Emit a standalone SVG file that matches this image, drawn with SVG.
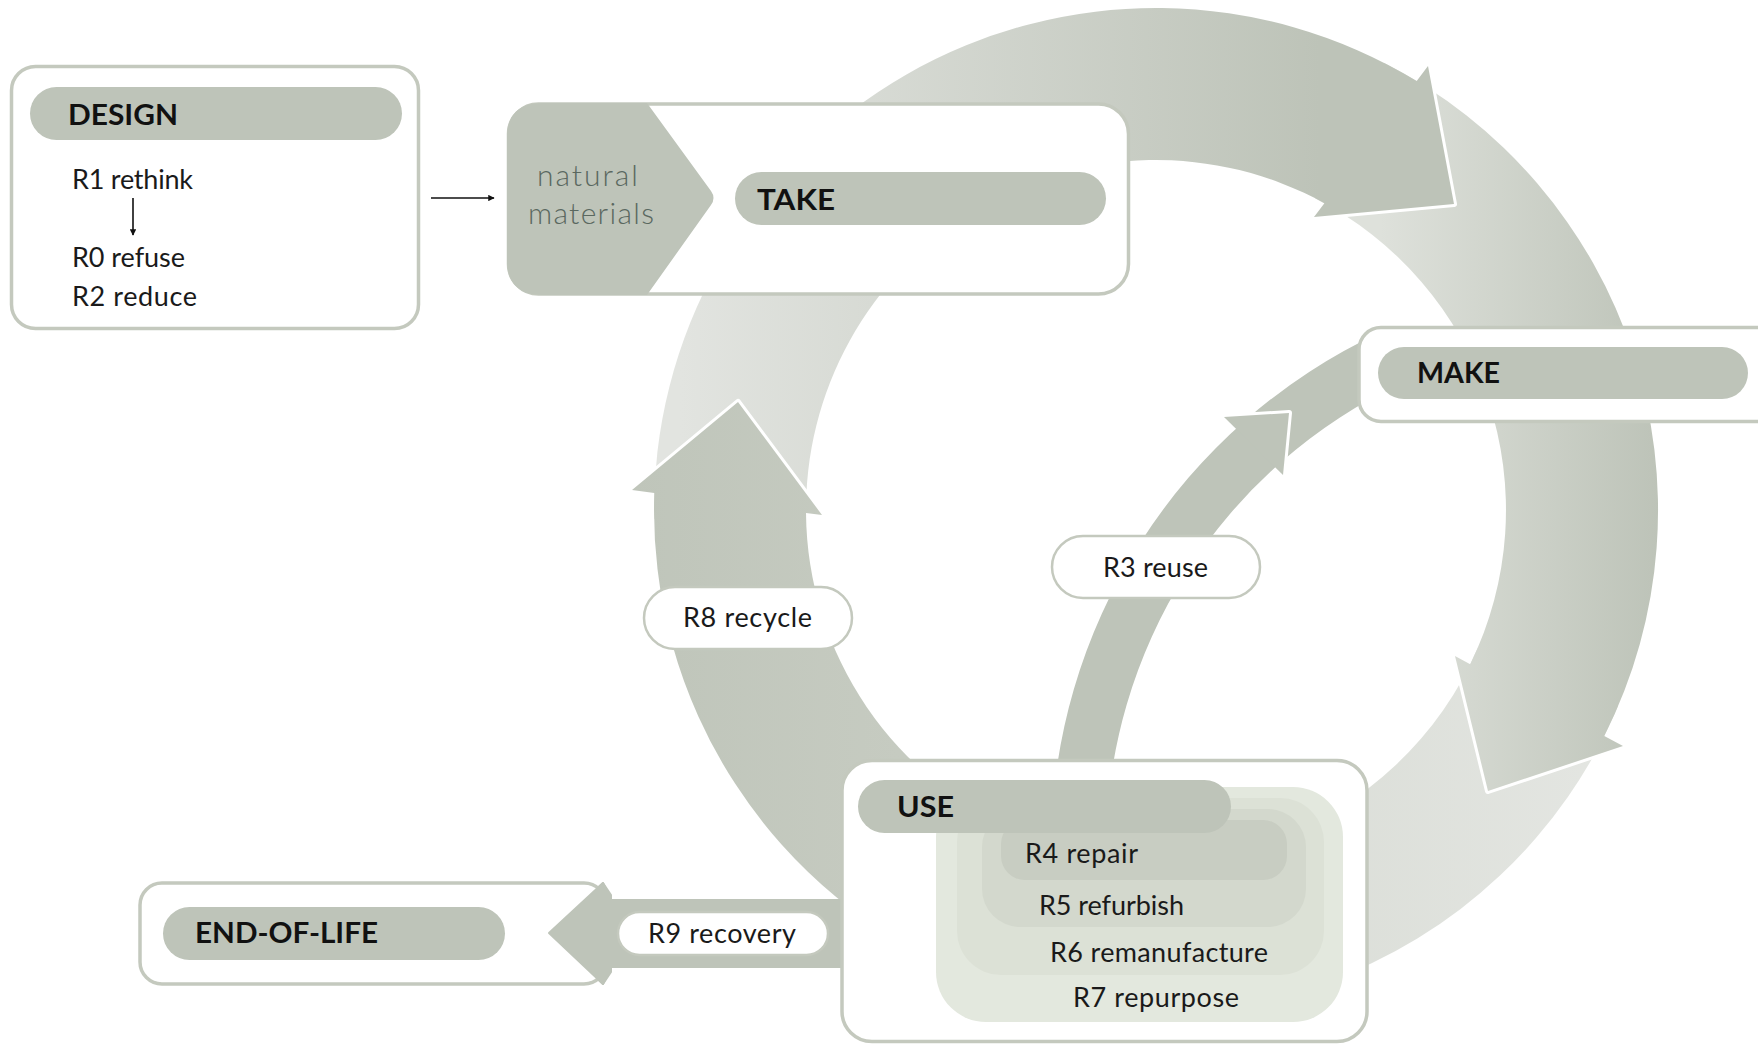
<svg xmlns="http://www.w3.org/2000/svg" width="1758" height="1044" viewBox="0 0 1758 1044">
<defs>
  <linearGradient id="gTop" gradientUnits="userSpaceOnUse" x1="680" y1="0" x2="1320" y2="0">
    <stop offset="0" stop-color="#e2e4e0"/><stop offset="1" stop-color="#bdc3b8"/>
  </linearGradient>
  <linearGradient id="gRight" gradientUnits="userSpaceOnUse" x1="1380" y1="0" x2="1660" y2="0">
    <stop offset="0" stop-color="#dee1db"/><stop offset="1" stop-color="#bdc3b8"/>
  </linearGradient>
  <linearGradient id="gBottom" gradientUnits="userSpaceOnUse" x1="1300" y1="0" x2="1620" y2="0">
    <stop offset="0" stop-color="#dbded8"/><stop offset="1" stop-color="#e4e6e2"/>
  </linearGradient>
  <linearGradient id="gLeft" gradientUnits="userSpaceOnUse" x1="630" y1="0" x2="900" y2="0">
    <stop offset="0" stop-color="#bfc5ba"/><stop offset="1" stop-color="#c6cbc1"/>
  </linearGradient>
  <marker id="ah" viewBox="0 0 10 10" refX="9" refY="5" markerWidth="5" markerHeight="4" orient="auto" markerUnits="strokeWidth">
    <path d="M0,0 L10,5 L0,10 z" fill="#111"/>
  </marker>
</defs>
<style>
  .box{fill:#fff;stroke:#c4c9be;stroke-width:3.5}
  .pill{fill:#bec4b9}
  .lbl{fill:#fff;stroke:#c4c9be;stroke-width:2.5}
  .flow{fill:#bec4b9}
  .edge{fill:none;stroke:#fff;stroke-width:6;stroke-linejoin:round}
  .h{font-family:Lato,"Liberation Sans",sans-serif;font-weight:700;font-size:28px;fill:#111}
  .t{font-family:Lato,"Liberation Sans",sans-serif;font-size:27px;fill:#1a1a1a}
  .nat{font-family:Lato,"Liberation Sans",sans-serif;font-weight:300;font-size:30px;fill:#5a6860}
  .thin{stroke:#111;stroke-width:1.6;fill:none}
</style>

<g id="connectors">
  <!-- bottom segment of main cycle -->
  <path d="M1618.1,706.1 A502,502 0 0 1 920.3,953.2 L991.7,819 A350,350 0 0 0 1478.2,646.8 Z" fill="url(#gBottom)"/>
  <!-- right segment MAKE -> USE -->
  <polyline class="edge" points="1455,656 1488,791 1623,746"/>
  <path d="M1383.9,62.7 A502,502 0 0 1 1604.3,736 L1623,746 L1488,791 L1455,656 L1470.2,664.2 A350,350 0 0 0 1314.9,198.2 Z" fill="url(#gRight)"/>
  <!-- top segment TAKE -> MAKE -->
  <polyline class="edge" points="1428,66 1454,204 1314,217"/>
  <path d="M654.1,518.8 A502,502 0 0 1 1416.7,81 L1428,66 L1454,204 L1314,217 L1324.4,203.2 A350,350 0 0 0 806.05,516.1 Z" fill="url(#gTop)"/>
  <!-- left segment USE -> TAKE (recycle) -->
  <polyline class="edge" points="632,490 738,402 822,515"/>
  <path d="M967.9,975.5 A502,502 0 0 1 654.3,492.9 L632,490 L738,402 L822,515 L806,512.9 A350,350 0 0 0 1024.9,834.5 Z" fill="url(#gLeft)"/>
  <!-- reuse arc USE -> MAKE -->
  <path class="flow" d="M1051,849 A570,570 0 0 1 1380.1,332.4 L1403.4,382.3 A515,515 0 0 0 1106,849 Z"/>
  <polyline class="edge" points="1224,417 1289,413 1283,475"/>
  <polygon class="flow" points="1224,417 1289,413 1283,475"/>
  <!-- recovery arrow USE -> END-OF-LIFE -->
  <polygon class="flow" points="845,900 611,900 603,883 549,933 603,984 611,967 845,967" stroke="#bec4b9" stroke-width="2" stroke-linejoin="round"/>
  <!-- DESIGN -> TAKE -->
  <line class="thin" x1="431" y1="198" x2="494" y2="198" marker-end="url(#ah)"/>
</g>

<g id="node-design">
  <rect class="box" x="11.5" y="66.5" width="407" height="262" rx="24"/>
  <rect class="pill" x="30" y="87" width="372" height="53" rx="26.5"/>
  <text class="h" x="68" y="125" textLength="110" lengthAdjust="spacingAndGlyphs">DESIGN</text>
  <text class="t" x="72" y="189" textLength="121" lengthAdjust="spacing">R1 rethink</text>
  <line class="thin" x1="133" y1="198" x2="133" y2="235" marker-end="url(#ah)"/>
  <text class="t" x="72" y="267" textLength="113" lengthAdjust="spacing">R0 refuse</text>
  <text class="t" x="72" y="306" textLength="125" lengthAdjust="spacing">R2 reduce</text>
</g>

<g id="node-take">
  <rect class="box" x="508.5" y="104" width="620" height="190" rx="30"/>
  <path class="pill" d="M647,103 L711,191 Q716,198 711,205 L647,295 L542,295 Q507,295 507,260 L507,138 Q507,103 542,103 Z"/>
  <text class="nat" x="537" y="186" textLength="101" lengthAdjust="spacing">natural</text>
  <text class="nat" x="528" y="224" textLength="126" lengthAdjust="spacing">materials</text>
  <rect class="pill" x="735" y="172" width="371" height="53" rx="26.5"/>
  <text class="h" x="757" y="210" textLength="78" lengthAdjust="spacingAndGlyphs">TAKE</text>
</g>

<g id="node-make">
  <rect class="box" x="1359" y="327.5" width="430" height="94" rx="22"/>
  <rect class="pill" x="1378" y="347" width="370" height="52" rx="26"/>
  <text class="h" x="1417" y="383" textLength="83" lengthAdjust="spacingAndGlyphs">MAKE</text>
</g>

<g id="node-eol">
  <rect class="box" x="140" y="883" width="466" height="101" rx="22"/>
  <polygon class="flow" points="611,895 603,883 549,933 603,984 611,972" stroke="#bec4b9" stroke-width="2" stroke-linejoin="round"/>
  <rect class="pill" x="163" y="907" width="342" height="53" rx="26.5"/>
  <text class="h" x="195" y="943" textLength="183" lengthAdjust="spacingAndGlyphs">END-OF-LIFE</text>
</g>

<g id="node-use">
  <rect class="box" x="842" y="760.5" width="525" height="281" rx="30"/>
  <rect x="936" y="787" width="407" height="235" rx="50" fill="#e3e8de"/>
  <rect x="957" y="798" width="367" height="177" rx="44" fill="#dce1d6"/>
  <rect x="982" y="809" width="324" height="118" rx="38" fill="#d3d8cd"/>
  <rect x="1001" y="820" width="286" height="60" rx="24" fill="#c8cdc2"/>
  <rect class="pill" x="858" y="780" width="373" height="53" rx="26.5"/>
  <text class="h" x="897" y="817" textLength="57" lengthAdjust="spacingAndGlyphs">USE</text>
  <text class="t" x="1025" y="863" textLength="113" lengthAdjust="spacing">R4 repair</text>
  <text class="t" x="1039" y="915" textLength="145" lengthAdjust="spacing">R5 refurbish</text>
  <text class="t" x="1050" y="962" textLength="218" lengthAdjust="spacing">R6 remanufacture</text>
  <text class="t" x="1073" y="1007" textLength="166" lengthAdjust="spacing">R7 repurpose</text>
</g>

<g id="label-r8">
  <rect class="lbl" x="644" y="587" width="208" height="62" rx="31"/>
  <text class="t" x="683" y="627" textLength="129" lengthAdjust="spacing">R8 recycle</text>
</g>
<g id="label-r3">
  <rect class="lbl" x="1052" y="536" width="208" height="62" rx="31"/>
  <text class="t" x="1103" y="577" textLength="105" lengthAdjust="spacing">R3 reuse</text>
</g>
<g id="label-r9">
  <rect class="lbl" x="618" y="912" width="210" height="43" rx="21.5"/>
  <text class="t" x="648" y="943" textLength="148" lengthAdjust="spacing">R9 recovery</text>
</g>
</svg>
